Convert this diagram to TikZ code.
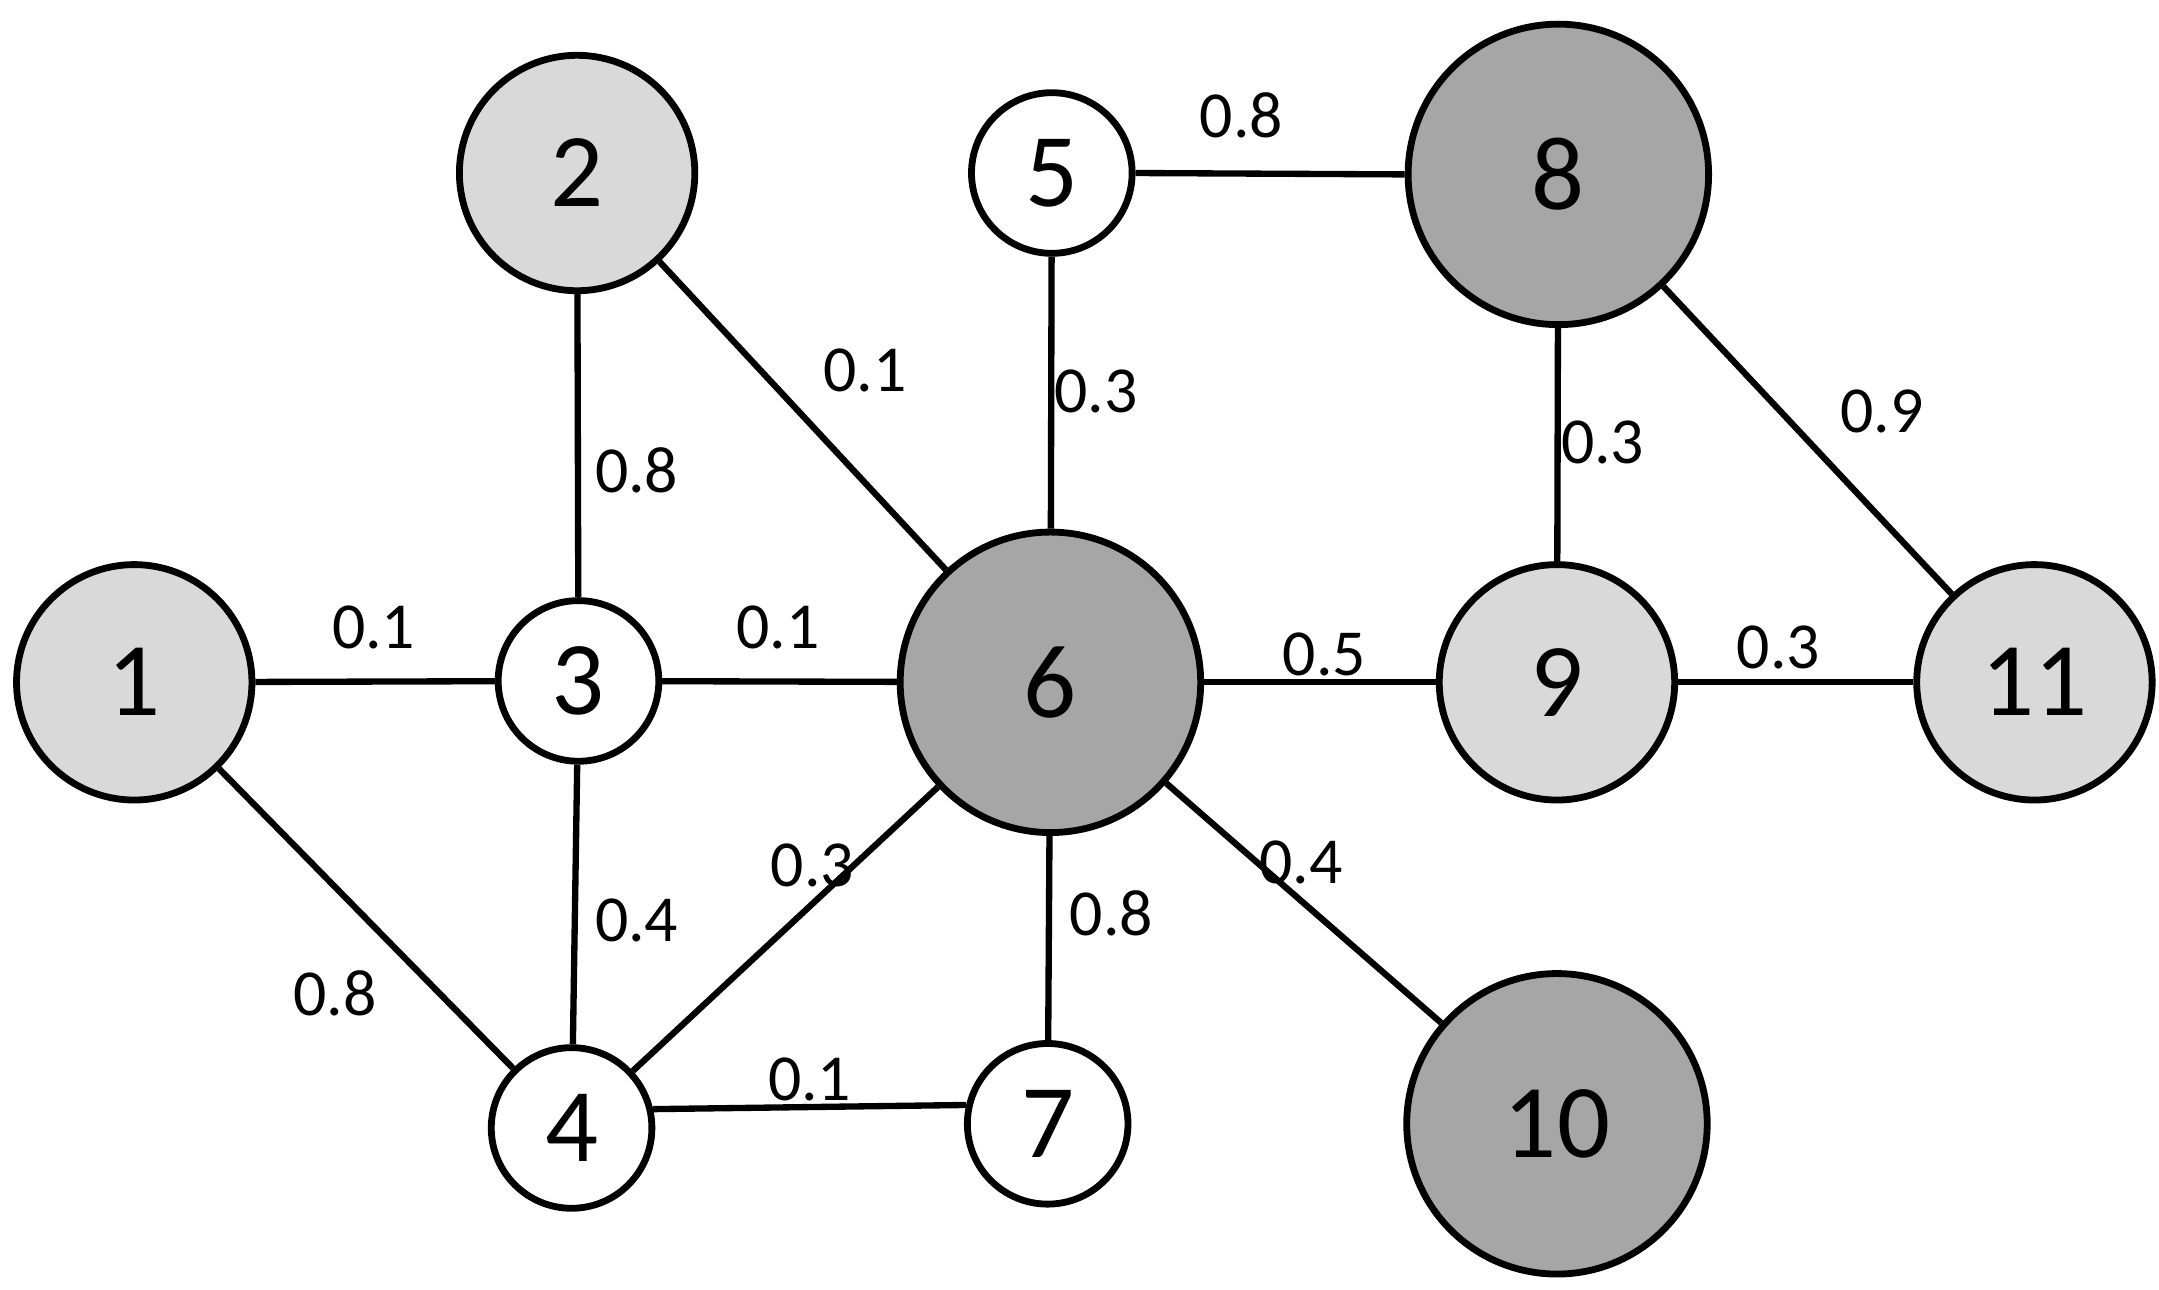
\documentclass[tikz,border=0pt]{standalone}
\usepackage{fontspec}
\setmainfont{Carlito}
\definecolor{lightg}{HTML}{D9D9D9}
\definecolor{darkg}{HTML}{A6A6A6}
\begin{document}
\begin{tikzpicture}[x=0.01cm,y=-0.01cm,
  vert/.style={circle,draw=black,line width=1.4pt,inner sep=0pt,font=\fontsize{21.5}{25}\selectfont},
  smallv/.style={vert,minimum size=1.16cm,fill=white},
  midv/.style={vert,minimum size=1.70cm,fill=lightg},
  bigv/.style={vert,minimum size=2.17cm,fill=darkg},
  edge/.style={line width=1.3pt,black},
  wlab/.style={font=\fontsize{13.5}{16}\selectfont,inner sep=0pt}]
\useasboundingbox (0,0) rectangle (1560,932);
\node[midv]   (n1)  at (97,493)   {1};
\node[midv]   (n2)  at (417,125)  {2};
\node[smallv] (n3)  at (418,492)  {3};
\node[smallv] (n4)  at (413,815)  {4};
\node[smallv] (n5)  at (760,125)  {5};
\node[bigv]   (n6)  at (759,493)  {6};
\node[smallv] (n7)  at (757,812)  {7};
\node[bigv]   (n8)  at (1126,126) {8};
\node[midv]   (n9)  at (1125,493) {9};
\node[bigv]   (n10) at (1125,812) {10};
\node[midv]   (n11) at (1470,493) {11};
\draw[edge] (n1) -- (n3);
\draw[edge] (n3) -- (n6);
\draw[edge] (n2) -- (n3);
\draw[edge] (n2) -- (n6);
\draw[edge] (n5) -- (n6);
\draw[edge] (n5.east) -- (n8.west);
\draw[edge] (n8) -- (n9);
\draw[edge] (n8) -- (n11);
\draw[edge] (n6) -- (n9);
\draw[edge] (n9) -- (n11);
\draw[edge] (n1) -- (n4);
\draw[edge] (n3) -- (n4);
\draw[edge] (n4) -- (n6);
\draw[edge] (n4.13) -- (n7.167);
\draw[edge] (n6) -- (n7);
\draw[edge] (n6) -- (n10);
\node[wlab] (l13)  at (270,453)  {0.1};
\node[wlab] (l36)  at (562,453)  {0.1};
\node[wlab] (l23)  at (460,340)  {0.8};
\node[wlab] (l26)  at (625,268)  {0.1};
\node[wlab] (l56)  at (792,283)  {0.3};
\node[wlab] (l58)  at (897,83)   {0.8};
\node[wlab] (l89)  at (1158,320) {0.3};
\node[wlab] (l811) at (1360,297) {0.9};
\node[wlab] (l69)  at (957,473)  {0.5};
\node[wlab] (l911) at (1285,468) {0.3};
\node[wlab] (l610) at (940,623)  {0.4};
\node[wlab] (l67)  at (803,660)  {0.8};
\node[wlab] (l34)  at (460,665)  {0.4};
\node[wlab] (l46)  at (587,625)  {0.3};
\node[wlab] (l14)  at (242,718)  {0.8};
\node[wlab] (l47)  at (585,780)  {0.1};
\end{tikzpicture}
\end{document}
